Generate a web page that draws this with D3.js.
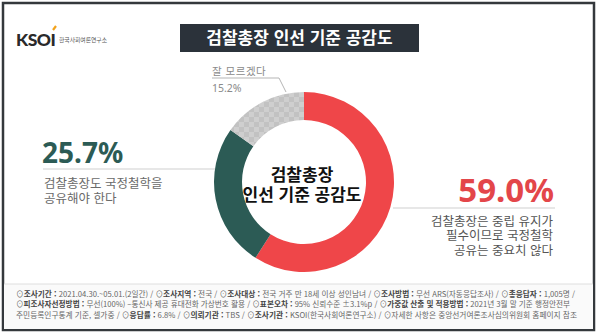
<!DOCTYPE html>
<html lang="ko">
<head>
<meta charset="utf-8">
<script src="https://cdn.jsdelivr.net/npm/d3@7/dist/d3.min.js"></script>
<style>
  html, body { margin: 0; padding: 0; background: #fff; }
  #chart { position: relative; width: 600px; height: 335px; }
  svg { display: block; font-family: "Noto Sans CJK KR", "Noto Sans", sans-serif; }
  .block { position: absolute; font-family: "Noto Sans CJK KR", sans-serif; white-space: nowrap; }
</style>
</head>
<body>
<div id="chart"></div>
<script>
// Survey result: agreement with the prosecutor-general appointment criterion
const categories = ["국정철학 공유 불필요", "국정철학 공유 필요", "잘 모르겠다"];
const values = [59.0, 25.7, 15.2];
const valueLabels = ["59.0%", "25.7%", "15.2%"];
const sliceColors = ["#ef4649", "#2c5b55", "url(#checker)"];

const title = "검찰총장 인선 기준 공감도";
const centerLines = ["검찰총장", "인선 기준 공감도"];
const leftCaption = ["검찰총장도 국정철학을", "공유해야 한다"];
const rightCaption = ["검찰총장은 중립 유지가", "필수이므로 국정철학", "공유는 중요치 않다"];
const footerLines = [
  [["⊙", 0], ["조사기간 :", 1], [" 2021.04.30.~05.01.(2일간)  / ⊙", 0], ["조사지역 :", 1], [" 전국 / ⊙", 0], ["조사대상 :", 1], [" 전국 거주 만 18세 이상 성인남녀 / ⊙", 0], ["조사방법 :", 1], [" 무선 ARS(자동응답조사) / ⊙", 0], ["총응답자 :", 1], [" 1,005명 /", 0]],
  [["⊙", 0], ["피조사자선정방법 :", 1], [" 무선(100%) –통신사 제공 휴대전화 가상번호 활용 / ⊙", 0], ["표본오차 :", 1], [" 95% 신뢰수준 ±3.1%p / ⊙", 0], ["가중값 산출 및 적용방법 :", 1], [" 2021년 3월 말 기준 행정안전부", 0]],
  [["주민등록인구통계 기준, 셀가중 / ⊙", 0], ["응답률 :", 1], [" 6.8% / ⊙", 0], ["의뢰기관 :", 1], [" TBS / ⊙", 0], ["조사기관 :", 1], [" KSOI(한국사회여론연구소) / ⊙자세한 사항은 중앙선거여론조사심의위원회 홈페이지 참조", 0]]
];
const footerWidths = [559, 554, 561];

const W = 600, H = 335;
const root = d3.select("#chart");
const svg = root.append("svg").attr("width", W).attr("height", H);

// multi-line caption as one HTML block with a fixed line height;
// y is the first baseline, anchor is "start", "middle" or "end" at x
function htmlBlock(lines, x, y, size, lineH, anchor) {
  const ascent = 1.16 * size, content = 1.448 * size;
  const top = y - ((lineH - content) / 2 + ascent);
  const div = root.append("div").attr("class", "block")
    .style("top", top + "px").style("font-size", size + "px").style("line-height", lineH + "px")
    .style("text-align", anchor === "end" ? "right" : anchor === "middle" ? "center" : "left");
  if (anchor === "end") div.style("right", (W - x) + "px");
  else if (anchor === "middle") div.style("left", (x - 150) + "px").style("width", "300px");
  else div.style("left", x + "px");
  div.html(lines.join("<br>"));
  return div;
}

// checkered fill for the "don't know" slice
const defs = svg.append("defs");
const pat = defs.append("pattern").attr("id", "checker")
  .attr("patternUnits", "userSpaceOnUse").attr("width", 10).attr("height", 10);
pat.append("rect").attr("width", 10).attr("height", 10).attr("fill", "#cfcfcf");
pat.append("rect").attr("width", 5).attr("height", 5).attr("fill", "#c2c2c2");
pat.append("rect").attr("x", 5).attr("y", 5).attr("width", 5).attr("height", 5).attr("fill", "#c2c2c2");

// outer frame
svg.append("rect").attr("x", 3).attr("y", 3).attr("width", 591).attr("height", 327)
  .attr("fill", "#fff").attr("stroke", "#34383c").attr("stroke-width", 2.5);

// logo
const logo = svg.append("g").attr("transform", "translate(16,46)");
logo.append("text").attr("x", 0).attr("y", 0).attr("font-family", "Lato, Roboto, sans-serif")
  .attr("font-weight", 900).attr("font-size", 17.5).attr("fill", "#2a2a2a")
  .attr("letter-spacing", -0.5).text("KSOI");
logo.append("line").attr("x1", 37).attr("y1", -16).attr("x2", 40).attr("y2", -20)
  .attr("stroke", "#f2a21b").attr("stroke-width", 2.2);
logo.append("text").attr("x", 43).attr("y", -4).attr("font-size", 5.8).attr("fill", "#555")
  .text("한국사회여론연구소");

// title bar
svg.append("rect").attr("x", 180).attr("y", 24).attr("width", 239).attr("height", 28).attr("fill", "#2b323a");
svg.append("text").attr("x", 299.5).attr("y", 44).attr("text-anchor", "middle")
  .attr("font-size", 17).attr("font-weight", 700).attr("fill", "#fff").text(title);

// donut
const cx = 304, cy = 182, rOuter = 90, rInner = 62;
const pie = d3.pie().sort(null).value(d => d)(values);
const arc = d3.arc().innerRadius(rInner).outerRadius(rOuter);
const g = svg.append("g").attr("transform", `translate(${cx},${cy})`);
g.selectAll("path").data(pie).join("path")
  .attr("d", arc).attr("fill", (d, i) => sliceColors[i]);

// center label
htmlBlock(centerLines, cx - 2, cy - 1, 17, 20, "middle")
  .style("font-weight", 700).style("color", "#111");

// leader lines
const lineColor = "#cfcfcf";
svg.append("line").attr("x1", 43).attr("y1", 169).attr("x2", cx - rOuter + 1).attr("y2", 169)
  .attr("stroke", lineColor).attr("stroke-width", 1);
svg.append("line").attr("x1", cx + rOuter - 1).attr("y1", 208).attr("x2", 555).attr("y2", 208)
  .attr("stroke", lineColor).attr("stroke-width", 1);
svg.append("polyline").attr("points", "212,78 279,78 286,92").attr("fill", "none")
  .attr("stroke", "#b5b5b5").attr("stroke-width", 1);

// left annotation (25.7%)
svg.append("text").attr("x", 42).attr("y", 163).attr("font-size", 28).attr("font-weight", 700)
  .attr("font-family", "'Noto Sans', 'Open Sans', sans-serif")
  .attr("fill", sliceColors[1]).text(valueLabels[1]);
htmlBlock(leftCaption, 44, 187.5, 12.5, 15, "start").style("color", "#6a6a6a");

// right annotation (59.0%)
svg.append("text").attr("x", 554).attr("y", 202).attr("text-anchor", "end")
  .attr("font-size", 33).attr("font-weight", 700)
  .attr("font-family", "'Noto Sans', 'Open Sans', sans-serif")
  .attr("fill", "#e3464a").text(valueLabels[0]);
htmlBlock(rightCaption, 553, 226.5, 12.5, 14.5, "end").style("color", "#555");

// top annotation (don't know)
svg.append("text").attr("x", 212).attr("y", 75).attr("font-size", 10.5).attr("fill", "#8a8a8a")
  .attr("letter-spacing", 0.5).text(categories[2]);
svg.append("text").attr("x", 212).attr("y", 92).attr("font-size", 10.5).attr("fill", "#8a8a8a")
  .attr("font-family", "'Noto Sans', sans-serif").text(valueLabels[2]);

// footer: survey methodology notes
svg.append("rect").attr("x", 4).attr("y", 284).attr("width", 589).attr("height", 45).attr("fill", "#fafafa");
svg.append("line").attr("x1", 4).attr("x2", 593).attr("y1", 284).attr("y2", 284)
  .attr("stroke", "#dedede");
const foot = svg.append("text").attr("font-size", 7.6).attr("fill", "#666");
footerLines.forEach((segs, li) => {
  const line = foot.append("tspan").attr("x", 16).attr("y", 297 + li * 10.3)
    .attr("textLength", footerWidths[li]).attr("lengthAdjust", "spacingAndGlyphs");
  segs.forEach(([s, b]) => {
    line.append("tspan").attr("font-weight", b ? 700 : 400).attr("fill", b ? "#444" : "#666").text(s);
  });
});
</script>
</body>
</html>
